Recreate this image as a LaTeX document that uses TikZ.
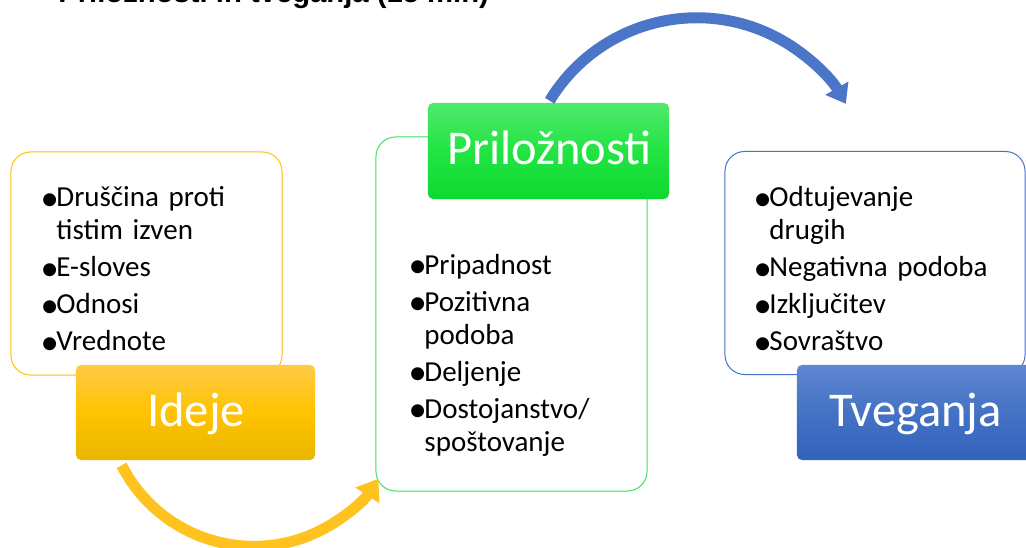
\documentclass[tikz,border=0pt]{standalone}
\usepackage{fontspec}
\setmainfont{Carlito}
\newfontfamily\titlefont{Liberation Sans}
\usetikzlibrary{shapes}
\usetikzlibrary{calc}
\usetikzlibrary{arrows.meta}

\definecolor{ideLine}{HTML}{FFC000}
\definecolor{ideTop}{HTML}{FFCA47}
\definecolor{ideMid}{HTML}{FFC300}
\definecolor{ideBot}{HTML}{E9B600}
\definecolor{priLine}{HTML}{3FE05B}
\definecolor{priTop}{HTML}{4FE96B}
\definecolor{priMid}{HTML}{22E443}
\definecolor{priBot}{HTML}{0ED930}
\definecolor{tveLine}{HTML}{4472C4}
\definecolor{tveTop}{HTML}{5F86D1}
\definecolor{tveMid}{HTML}{4472C4}
\definecolor{tveBot}{HTML}{3262BD}
\definecolor{ideArrow}{HTML}{FFC31F}
\definecolor{tveArrow}{HTML}{4A75C8}

\newcommand{\bul}[1]{\par\hangindent=9pt\hangafter=1\noindent\strut\makebox[9pt][l]{\hspace{-2.3pt}\raisebox{-2.6pt}{\fontsize{26}{0}\selectfont•}}#1}
\newcommand{\gap}{\par\vspace{2.85pt}}

\begin{document}
\begin{tikzpicture}[x=0.025cm, y=0.025cm,
	listbox/.style={draw, line width=0.7pt, rounded corners=14pt, fill=white},
	headbox/.style={rounded corners=3.6pt},
	headtxt/.style={text=white, inner sep=0, anchor=base, font=\fontsize{34.5}{41}\selectfont},
	listtxt/.style={inner sep=0, anchor=north west, text width=7cm, font=\fontsize{20.63}{23.47}\selectfont},
	flowarrow/.style={line width=7.8pt}]
	\useasboundingbox (0,0) rectangle (1026,547);
	\clip (0,0) rectangle (1026,547);
	\fill[white] (0,0) rectangle (1026,547);

	% heading, cut by the top edge
	\node[anchor=base west, inner sep=0, font=\titlefont\fontsize{20.8}{25}\selectfont\bfseries] (title) at (58,544) {Priložnosti in tveganja (15 min)};

	% Ideje
	\coordinate (i) at (146.5,283.5);
	\node[listbox, draw=ideLine, minimum width=6.775cm, minimum height=5.575cm] (ideBox) at (i) {};
		\node[listtxt] (ideList) at ($(i)+(-103,90)$) {\bul{Druščina proti\newline tistim izven}\gap\bul{E-sloves}\gap\bul{Odnosi}\gap\bul{Vrednote}\par};
		\coordinate (h) at (195.5,134.5);
		\node[headbox, top color=ideTop, bottom color=ideBot, middle color=ideMid, minimum width=5.975cm, minimum height=2.375cm] (ideHead) at (h) {};
		\node[headtxt] (ideTxt) at ($(h)+(0.5,-14)$) {Ideje};

	% Priložnosti
	\coordinate (i) at (511.5,233);
	\node[listbox, draw=priLine, minimum width=6.775cm, minimum height=8.85cm] (priBox) at (i) {};
		\node[listtxt] (priList) at ($(i)+(-100,73)$) {\bul{Pripadnost}\gap\bul{Pozitivna\newline podoba}\gap\bul{Deljenje}\gap\bul{Dostojanstvo/\newline spoštovanje}\par};
		\coordinate (h) at (548.5,396);
		\node[headbox, top color=priTop, bottom color=priBot, middle color=priMid, minimum width=6.025cm, minimum height=2.4cm] (priHead) at (h) {};
		\node[headtxt] (priTxt) at ($(h)+(1,-14)$) {Priložnosti};

	% Tveganja
	\coordinate (i) at (875,284);
	\node[listbox, draw=tveLine, minimum width=7.5cm, minimum height=5.575cm] (tveBox) at (i) {};
		\node[listtxt] (tveList) at ($(i)+(-118.5,89.4)$) {\bul{Odtujevanje\newline drugih}\gap\bul{Negativna podoba}\gap\bul{Izključitev}\gap\bul{Sovraštvo}\par};
		\coordinate (h) at (915,134.5);
		\node[headbox, top color=tveTop, bottom color=tveBot, middle color=tveMid, minimum width=5.9cm, minimum height=2.375cm] (tveHead) at (h) {};
		\node[headtxt] (tveTxt) at ($(h)+(0.5,-14)$) {Tveganja};

	% curved arrows
	\coordinate (a) at ($(ideHead.south west)+(46,-5)$);
	\draw[flowarrow, draw=ideArrow, -{Triangle[length=14.2pt,width=19.6pt]}] (a) arc[start angle=207, end angle=327, radius=3.7075cm];
	\coordinate (b) at ($(priHead.north west)+(122,2)$);
	\draw[flowarrow, draw=tveArrow, -{Triangle[length=12.8pt,width=18.1pt]}] (b) arc[start angle=148.8, end angle=30, radius=4.3cm];
\end{tikzpicture}
\end{document}
